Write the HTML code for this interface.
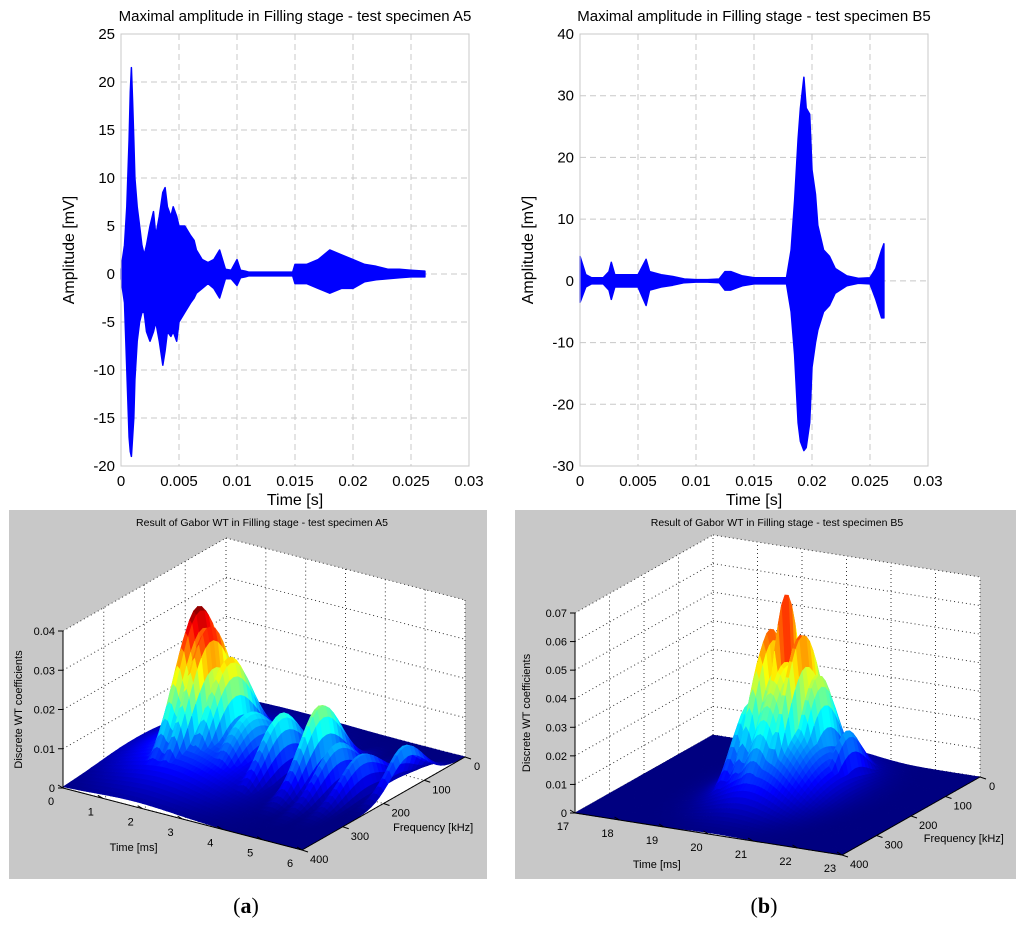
<!DOCTYPE html>
<html><head><meta charset="utf-8">
<style>
html,body{margin:0;padding:0;background:#fff;}
svg{display:block;font-family:"Liberation Sans",Arial,sans-serif;}
</style></head>
<body>
<svg id="fig" width="1024" height="928" viewBox="0 0 1024 928" xmlns="http://www.w3.org/2000/svg">
  <rect x="0" y="0" width="1024" height="928" fill="#fff"/>
  <rect x="9" y="510" width="478" height="369" fill="#c8c8c8"/>
  <rect x="515" y="510" width="501" height="369" fill="#c8c8c8"/>
  <g id="g2a"></g>
  <g id="g2b"></g>
  <g id="g3a"></g>
  <g id="g3b"></g>
  <text x="246" y="913" font-family="Liberation Serif,serif" font-size="22" text-anchor="middle">(<tspan font-weight="bold">a</tspan>)</text>
  <text x="764" y="913" font-family="Liberation Serif,serif" font-size="22" text-anchor="middle">(<tspan font-weight="bold">b</tspan>)</text>
</svg>
<script>
// ---------- Data: waveform A5 (envelope) ----------
const timeA = [0,0.0003,0.0005,0.0007,0.0008,0.0009,0.001,0.0011,0.0012,0.0014,0.0016,0.0018,0.002,0.0022,0.0025,0.0028,0.003,0.0033,0.0036,0.0038,0.004,0.0043,0.0045,0.0048,0.005,0.0055,0.006,0.0063,0.0065,0.007,0.0075,0.008,0.0085,0.009,0.0095,0.01,0.0103,0.0107,0.011,0.012,0.013,0.014,0.0148,0.015,0.016,0.017,0.018,0.019,0.02,0.021,0.022,0.023,0.024,0.025,0.0262];
const upperA = [0.5,3,7,14,19,21.5,18,14,10,7,5,3,2,3,5,6.5,4,6,8.5,9,7,6,7,6,5,5,4,3.5,2.5,1.5,1.2,1.5,2.5,0.5,0.4,1.5,0.4,0.3,0.2,0.2,0.2,0.2,0.2,1,1,1.5,2.5,2,1.5,1,0.8,0.5,0.5,0.4,0.3];
const lowerA = [-0.5,-3,-10,-17,-18.5,-19,-17,-15,-11,-7,-5,-4,-4,-6,-7,-6,-5,-7,-9.5,-8,-6,-6.5,-6,-7,-5,-4,-3,-2.5,-2,-1.5,-1,-1.5,-2.5,-0.5,-0.5,-1.2,-0.4,-0.3,-0.2,-0.2,-0.2,-0.2,-0.2,-1,-1,-1.5,-2,-1.5,-1.5,-0.8,-0.6,-0.5,-0.4,-0.3,-0.3];
const yTicksA = [25,20,15,10,5,0,-5,-10,-15,-20];
// ---------- Data: waveform B5 ----------
const timeB = [0,0.0005,0.001,0.002,0.0025,0.0027,0.003,0.004,0.005,0.0057,0.006,0.007,0.008,0.009,0.01,0.011,0.012,0.0125,0.013,0.014,0.015,0.016,0.017,0.0178,0.0182,0.0185,0.0188,0.019,0.0193,0.0195,0.0198,0.02,0.0203,0.0205,0.021,0.0215,0.022,0.023,0.024,0.025,0.0255,0.026,0.0262];
const upperB = [4,1,0.5,0.5,1.5,3,1,1,1,3.5,1.5,1,0.7,0.3,0.2,0.2,0.3,1.5,1.5,0.8,0.5,0.5,0.5,0.5,5,13,23,28,33,28,27,18,14,9,5,4,2,0.8,0.4,0.5,2,5,6];
const lowerB = [-3.5,-1,-0.5,-0.5,-1.5,-3,-1,-1,-1,-4,-1.5,-1,-0.7,-0.3,-0.2,-0.2,-0.3,-1.5,-1.5,-0.8,-0.5,-0.5,-0.5,-0.5,-5,-12,-23,-26,-27.5,-27,-23,-14,-10,-8,-5,-4,-2,-0.8,-0.4,-0.5,-3,-6,-6];
const yTicksB = [40,30,20,10,0,-10,-20,-30];
const xTicks = [0,0.005,0.01,0.015,0.02,0.025,0.03];
const xTickLabels = ["0","0.005","0.01","0.015","0.02","0.025","0.03"];
// ---------- Data: Gabor surface peaks A5 ----------
const peakTimeA = [1.35,1.65,2.0,1.8,3.4,4.3,4.8,5.3,5.9,2.6];
const peakFreqA = [200,205,190,220,200,190,200,190,140,200];
const peakHeightA = [0.038,0.034,0.026,0.009,0.016,0.02,0.012,0.01,0.011,0.014];
const peakWidthTA = [0.3,0.25,0.3,1.5,0.25,0.25,0.2,0.2,0.2,0.4];
const peakWidthFA = [80,80,75,130,70,70,70,70,60,80];
const zTicksA = [0,0.01,0.02,0.03,0.04];
const tTicksA = [0,1,2,3,4,5,6];
// ---------- Data: Gabor surface peaks B5 ----------
const peakTimeB = [19.93,19.6,20.3,20.5,19.3,21.0,20.0,20.1];
const peakFreqB = [167,170,170,150,190,130,180,175];
const peakHeightB = [0.068,0.055,0.056,0.04,0.03,0.02,0.045,0.03];
const peakWidthTB = [0.1,0.25,0.2,0.3,0.25,0.2,0.45,0.9];
const peakWidthFB = [60,80,80,70,70,60,90,110];
const zTicksB = [0,0.01,0.02,0.03,0.04,0.05,0.06,0.07];
const tTicksB = [17,18,19,20,21,22,23];
const fTicks = [0,100,200,300,400];

const NS="http://www.w3.org/2000/svg";
function mk(tag, attrs, parent, txt){
  const e=document.createElementNS(NS,tag);
  for(const k in attrs) e.setAttribute(k,attrs[k]);
  if(txt!==undefined) e.textContent=txt;
  parent.appendChild(e); return e;
}

function waveform(g, title, times, up, lo, yTicks, ymin, ymax, x0, x1, y0, y1, nm){
  const sx=v=>x0+(v-0)/0.03*(x1-x0);
  const sy=v=>y1-(v-ymin)/(ymax-ymin)*(y1-y0);
  mk('rect',{x:x0,y:y0,width:x1-x0,height:y1-y0,fill:'#fff',stroke:'none'},g);
  xTicks.forEach((t,i)=>{
    if(i>0&&i<xTicks.length-1){
      const l=mk('line',{x1:sx(t),x2:sx(t),y1:y0,y2:y1,stroke:'#c8c8c8','stroke-dasharray':'6,4','stroke-width':1},g);
       
    }
    const tx=mk('text',{x:sx(t),y:y1+20,'font-size':15,'text-anchor':'middle'},g,xTickLabels[i]);
     
  });
  yTicks.forEach(v=>{
    if(v!==ymin&&v!==ymax){
      const l=mk('line',{x1:x0,x2:x1,y1:sy(v),y2:sy(v),stroke:'#c8c8c8','stroke-dasharray':'6,4','stroke-width':1},g);
       
    }
    const tx=mk('text',{x:x0-6,y:sy(v)+5,'font-size':15,'text-anchor':'end'},g,String(v));
     
  });
  let pts=[];
  for(let i=0;i<times.length;i++) pts.push(sx(times[i]).toFixed(1)+','+sy(up[i]).toFixed(1));
  for(let i=times.length-1;i>=0;i--) pts.push(sx(times[i]).toFixed(1)+','+sy(lo[i]).toFixed(1));
  const p=mk('polygon',{points:pts.join(' '),fill:'#0000ff',stroke:'#0000ff','stroke-width':1.5,'stroke-linejoin':'round'},g);
   
  mk('rect',{x:x0,y:y0,width:x1-x0,height:y1-y0,fill:'none',stroke:'#c8c8c8'},g);
  const t=mk('text',{x:(x0+x1)/2,y:21,'font-size':15,'text-anchor':'middle'},g,title);
   
  const xl=mk('text',{x:(x0+x1)/2,y:505,'font-size':16,'text-anchor':'middle'},g,'Time [s]');
   
  const yx=x0-47, yy=(y0+y1)/2;
  const yl=mk('text',{x:yx,y:yy,'font-size':16,'text-anchor':'middle',transform:`rotate(-90 ${yx} ${yy})`},g,'Amplitude [mV]');
   
}

waveform(document.getElementById('g2a'),'Maximal amplitude in Filling stage - test specimen A5',timeA,upperA,lowerA,yTicksA,-20,25,121,469,34,466,'a5');
waveform(document.getElementById('g2b'),'Maximal amplitude in Filling stage - test specimen B5',timeB,upperB,lowerB,yTicksB,-30,40,580,928,34,466,'b5');

function jet(v){
  const c=x=>Math.max(0,Math.min(1,x));
  const r=c(1.5-Math.abs(4*v-3)), g=c(1.5-Math.abs(4*v-2)), b=c(1.5-Math.abs(4*v-1));
  return `rgb(${Math.round(r*255)},${Math.round(g*255)},${Math.round(b*255)})`;
}

function surface(g, cfg){
  const {L,F,R,zmax,zpx,tmin,tmax,title,zTicks,tTicks,pt,pf,ph,pwt,pwf,titleX,zlabX,nm}=cfg;
  const tv=[(F[0]-L[0])/(tmax-tmin),(F[1]-L[1])/(tmax-tmin)];
  const fv=[(R[0]-F[0])/400,(R[1]-F[1])/400];
  const P=(t,f,z)=>[L[0]+(t-tmin)*tv[0]+(400-f)*fv[0], L[1]+(t-tmin)*tv[1]+(400-f)*fv[1]-z/zmax*zpx];
  const poly=(arr,attrs)=>mk('polygon',Object.assign({points:arr.map(p=>p[0].toFixed(1)+','+p[1].toFixed(1)).join(' ')},attrs),g);
  const w1=poly([P(tmin,400,0),P(tmin,0,0),P(tmin,0,zmax),P(tmin,400,zmax)],{fill:'#fff',stroke:'none'});
   
  const w2=poly([P(tmin,0,0),P(tmax,0,0),P(tmax,0,zmax),P(tmin,0,zmax)],{fill:'#fff',stroke:'none'});
   
  poly([P(tmin,400,0),P(tmin,0,0),P(tmax,0,0),P(tmax,400,0)],{fill:'#fff',stroke:'none'});
  const dot={stroke:'#333','stroke-width':1,'stroke-dasharray':'1,3'};
  const ln=(a,b,at)=>mk('line',Object.assign({x1:a[0],y1:a[1],x2:b[0],y2:b[1]},at),g);
  zTicks.forEach(z=>{ ln(P(tmin,400,z),P(tmin,0,z),dot); ln(P(tmin,0,z),P(tmax,0,z),dot); });
  fTicks.forEach(f=>{ ln(P(tmin,f,0),P(tmin,f,zmax),dot); ln(P(tmin,f,0),P(tmax,f,0),dot); });
  tTicks.forEach(t=>{ ln(P(t,0,0),P(t,0,zmax),dot); ln(P(t,0,0),P(t,400,0),dot); });
  const zf=(t,f)=>{let s=0;for(let i=0;i<pt.length;i++){const v=ph[i]*Math.exp(-Math.pow((t-pt[i])/pwt[i],2))*Math.exp(-Math.pow((f-pf[i])/pwf[i],2));if(v>s)s=v;}return s;};
  const NT=90,NF=40;
  const Z=[];let mz=0;
  for(let j=0;j<=NF;j++){Z.push([]);for(let i=0;i<=NT;i++){const v=zf(tmin+(tmax-tmin)*i/NT,400*j/NF);Z[j].push(v);if(v>mz)mz=v;}}
  const sg=mk('g',{},g);
   
  for(let j=0;j<NF;j++){
    for(let i=0;i<NT;i++){
      const t0=tmin+(tmax-tmin)*i/NT,t1=tmin+(tmax-tmin)*(i+1)/NT,f0=400*j/NF,f1=400*(j+1)/NF;
      const za=Z[j][i],zb=Z[j][i+1],zc=Z[j+1][i+1],zd=Z[j+1][i];
      const zm=(za+zb+zc+zd)/4;
      const col=jet(Math.min(1,zm/mz));
      const q=[P(t0,f0,za),P(t1,f0,zb),P(t1,f1,zc),P(t0,f1,zd)];
      mk('polygon',{points:q.map(p=>p[0].toFixed(1)+','+p[1].toFixed(1)).join(' '),fill:col,stroke:col,'stroke-width':0.6},sg);
    }
  }
  const ax={stroke:'#000','stroke-width':1};
  ln(P(tmin,400,0),P(tmin,400,zmax),ax);
  ln(P(tmin,400,0),P(tmax,400,0),ax);
  ln(P(tmax,400,0),P(tmax,0,0),ax);
  zTicks.forEach(z=>{const p=P(tmin,400,z);ln(p,[p[0]-5,p[1]],ax);
    const tx=mk('text',{x:p[0]-8,y:p[1]+4,'font-size':11,'text-anchor':'end'},g,String(z));
     });
  tTicks.forEach(t=>{const p=P(t,400,0);ln(p,[p[0]-5,p[1]-3],ax);
    const tx=mk('text',{x:p[0]-12,y:p[1]+17,'font-size':11,'text-anchor':'middle'},g,String(t));
     });
  fTicks.forEach(f=>{const p=P(tmax,f,0);ln(p,[p[0]+6,p[1]+2],ax);
    const tx=mk('text',{x:p[0]+(f==0?9:8),y:p[1]+13,'font-size':11,'text-anchor':'start'},g,String(f));
     });
  const tt=mk('text',{x:titleX,y:526,'font-size':10.5,'text-anchor':'middle'},g,title);
   
  const tm=P((tmin+tmax)/2-0.6,400,0);
  const xl=mk('text',{x:tm[0]-25,y:tm[1]+38,'font-size':11,'text-anchor':'middle'},g,'Time [ms]');
   
  const fm=P(tmax,250,0);
  const fl=mk('text',{x:fm[0]+30,y:fm[1]+16,'font-size':11,'text-anchor':'start'},g,'Frequency [kHz]');
   
  const zy=(P(tmin,400,0)[1]+P(tmin,400,zmax)[1])/2;
  const zl=mk('text',{x:zlabX,y:zy,'font-size':11,'text-anchor':'middle',transform:`rotate(-90 ${zlabX} ${zy})`},g,'Discrete WT coefficients');
   
}

surface(document.getElementById('g3a'),{L:[63,788],F:[302,850],R:[465,757],zmax:0.04,zpx:157,tmin:0,tmax:6,
  title:'Result of Gabor WT in Filling stage - test specimen A5',zTicks:zTicksA,tTicks:tTicksA,
  pt:peakTimeA,pf:peakFreqA,ph:peakHeightA,pwt:peakWidthTA,pwf:peakWidthFA,titleX:262,zlabX:22,nm:'a5'});
surface(document.getElementById('g3b'),{L:[575,813],F:[842,855],R:[980,777],zmax:0.07,zpx:200,tmin:17,tmax:23,
  title:'Result of Gabor WT in Filling stage - test specimen B5',zTicks:zTicksB,tTicks:tTicksB,
  pt:peakTimeB,pf:peakFreqB,ph:peakHeightB,pwt:peakWidthTB,pwf:peakWidthFB,titleX:777,zlabX:530,nm:'b5'});
</script>
</body></html>
